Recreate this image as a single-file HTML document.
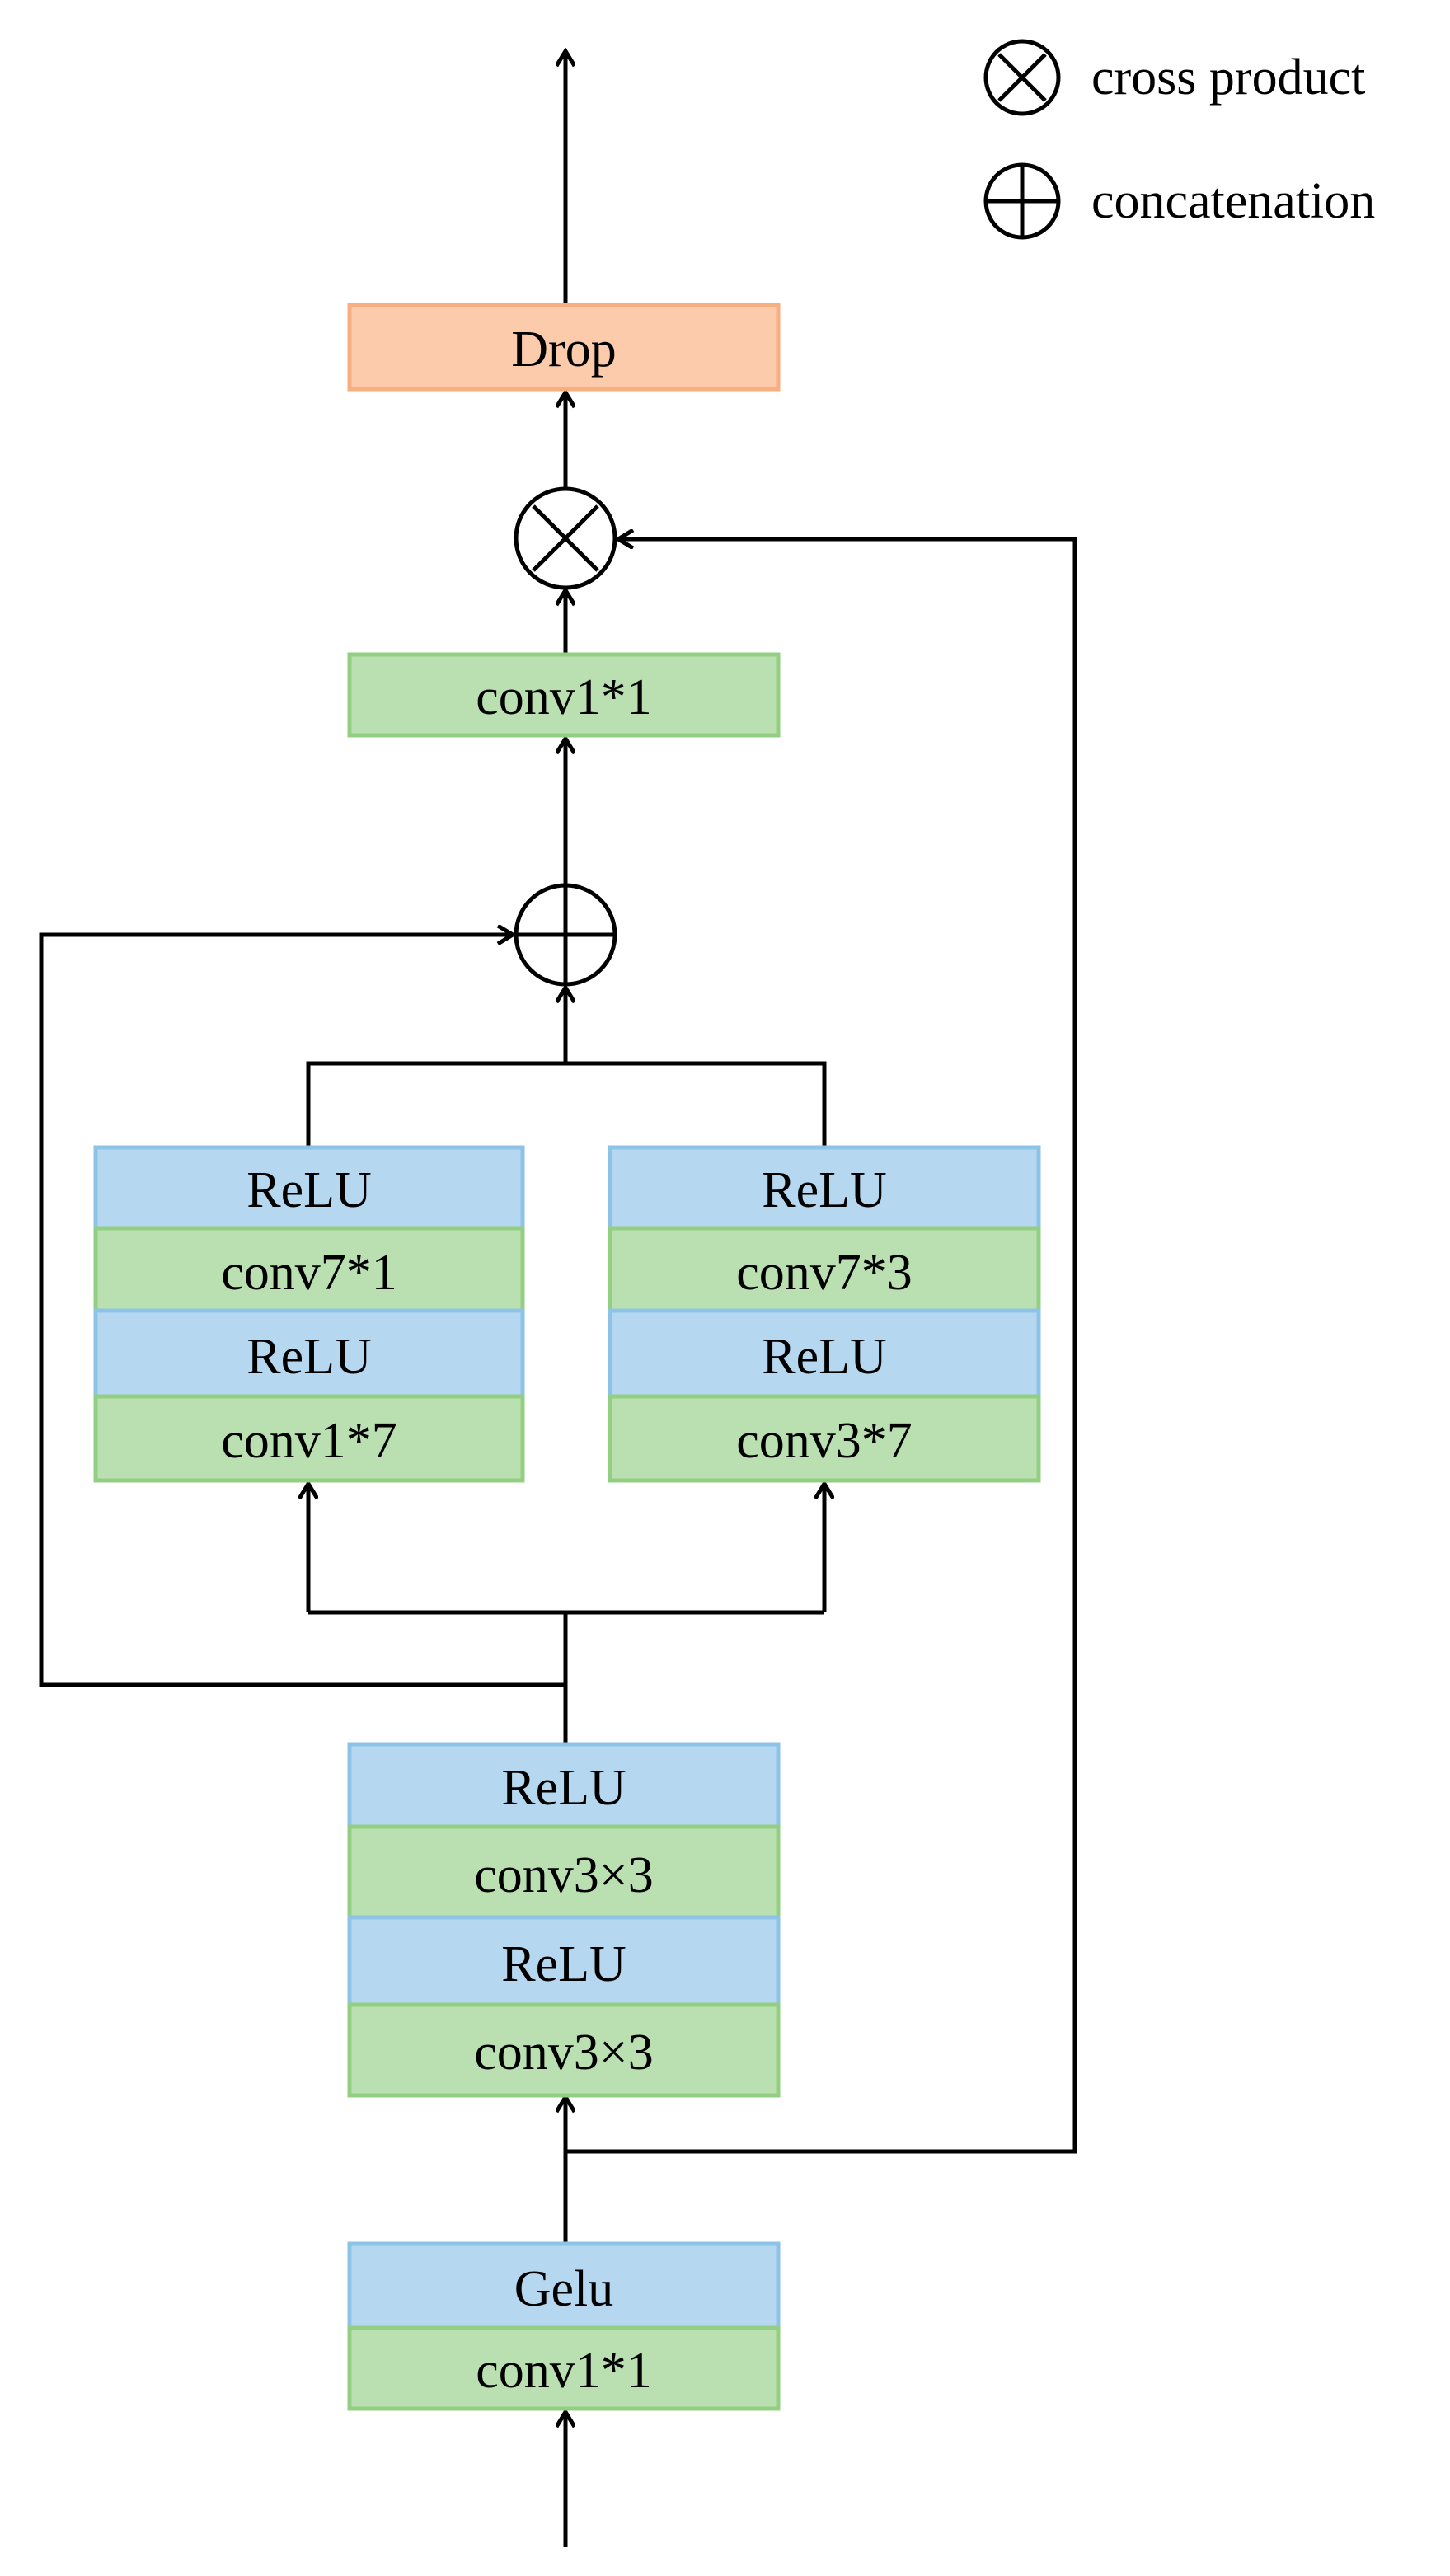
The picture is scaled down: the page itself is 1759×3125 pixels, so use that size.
<!DOCTYPE html>
<html><head><meta charset="utf-8"><style>
html,body{margin:0;padding:0;background:#fff;}
svg{display:block;}
text{font-family:"Liberation Serif",serif;fill:#000;text-anchor:middle;}
</style></head><body>
<svg width="1759" height="3125" viewBox="0 0 1759 3125" xmlns="http://www.w3.org/2000/svg">
<defs>
<marker id="a" markerWidth="24" markerHeight="24" refX="20" refY="12" orient="auto" markerUnits="userSpaceOnUse">
<path d="M2,1 L20,12 L2,23" fill="none" stroke="#000" stroke-width="5"/>
</marker>
</defs>
<g stroke="#000" stroke-width="5" fill="none">
<!-- legend -->
<circle cx="1240" cy="94" r="44"/>
<path d="M1212,66 L1268,122 M1268,66 L1212,122"/>
<circle cx="1240" cy="244" r="44"/>
<path d="M1196,244 L1284,244 M1240,200 L1240,288"/>
<!-- top arrow -->
<line x1="686" y1="368" x2="686" y2="62" marker-end="url(#a)"/>
<line x1="686" y1="592" x2="686" y2="476" marker-end="url(#a)"/>
<circle cx="686" cy="653" r="60"/>
<path d="M647,614 L725,692 M725,614 L647,692"/>
<line x1="686" y1="792" x2="686" y2="716" marker-end="url(#a)"/>
<polyline points="686,2610 1304,2610 1304,654 750,654" marker-end="url(#a)"/>
<line x1="686" y1="1072" x2="686" y2="896" marker-end="url(#a)"/>
<circle cx="686" cy="1134" r="60"/>
<path d="M626,1134 L746,1134 M686,1074 L686,1194"/>
<polyline points="686,2044 50,2044 50,1134 622,1134" marker-end="url(#a)"/>
<line x1="686" y1="1290" x2="686" y2="1198" marker-end="url(#a)"/>
<polyline points="374,1390 374,1290 1000,1290 1000,1390"/>
<line x1="686" y1="2114" x2="686" y2="1956"/>
<polyline points="374,1956 1000,1956"/>
<line x1="374" y1="1956" x2="374" y2="1800" marker-end="url(#a)"/>
<line x1="1000" y1="1956" x2="1000" y2="1800" marker-end="url(#a)"/>
<line x1="686" y1="2720" x2="686" y2="2544" marker-end="url(#a)"/>
<line x1="686" y1="3090" x2="686" y2="2926" marker-end="url(#a)"/>
</g>
<g stroke-width="5">
<rect x="424" y="370" width="520" height="102" fill="#FBCBAB" stroke="#F9AE7F"/>
<rect x="424" y="794" width="520" height="98" fill="#BAE0B1" stroke="#93CF83"/>
<!-- left stack -->
<rect x="116" y="1392" width="518" height="98" fill="#B5D7EF" stroke="#8EC3E8"/>
<rect x="116" y="1490" width="518" height="100" fill="#BAE0B1" stroke="#93CF83"/>
<rect x="116" y="1590" width="518" height="104" fill="#B5D7EF" stroke="#8EC3E8"/>
<rect x="116" y="1694" width="518" height="102" fill="#BAE0B1" stroke="#93CF83"/>
<!-- right stack -->
<rect x="740" y="1392" width="520" height="98" fill="#B5D7EF" stroke="#8EC3E8"/>
<rect x="740" y="1490" width="520" height="100" fill="#BAE0B1" stroke="#93CF83"/>
<rect x="740" y="1590" width="520" height="104" fill="#B5D7EF" stroke="#8EC3E8"/>
<rect x="740" y="1694" width="520" height="102" fill="#BAE0B1" stroke="#93CF83"/>
<!-- middle stack -->
<rect x="424" y="2116" width="520" height="100" fill="#B5D7EF" stroke="#8EC3E8"/>
<rect x="424" y="2216" width="520" height="110" fill="#BAE0B1" stroke="#93CF83"/>
<rect x="424" y="2326" width="520" height="106" fill="#B5D7EF" stroke="#8EC3E8"/>
<rect x="424" y="2432" width="520" height="110" fill="#BAE0B1" stroke="#93CF83"/>
<!-- bottom -->
<rect x="424" y="2722" width="520" height="102" fill="#B5D7EF" stroke="#8EC3E8"/>
<rect x="424" y="2824" width="520" height="98" fill="#BAE0B1" stroke="#93CF83"/>
</g>
<g font-size="62">
<text x="1324" y="114" text-anchor="start" style="text-anchor:start">cross product</text>
<text x="1324" y="264" text-anchor="start" style="text-anchor:start">concatenation</text>
<text x="684" y="444">Drop</text>
<text x="684" y="866">conv1*1</text>
<text x="375" y="1464">ReLU</text>
<text x="375" y="1564">conv7*1</text>
<text x="375" y="1666">ReLU</text>
<text x="375" y="1768">conv1*7</text>
<text x="1000" y="1464">ReLU</text>
<text x="1000" y="1564">conv7*3</text>
<text x="1000" y="1666">ReLU</text>
<text x="1000" y="1768">conv3*7</text>
<text x="684" y="2189">ReLU</text>
<text x="684" y="2295">conv3×3</text>
<text x="684" y="2403">ReLU</text>
<text x="684" y="2510">conv3×3</text>
<text x="684" y="2797">Gelu</text>
<text x="684" y="2896">conv1*1</text>
</g>
</svg>
</body></html>
